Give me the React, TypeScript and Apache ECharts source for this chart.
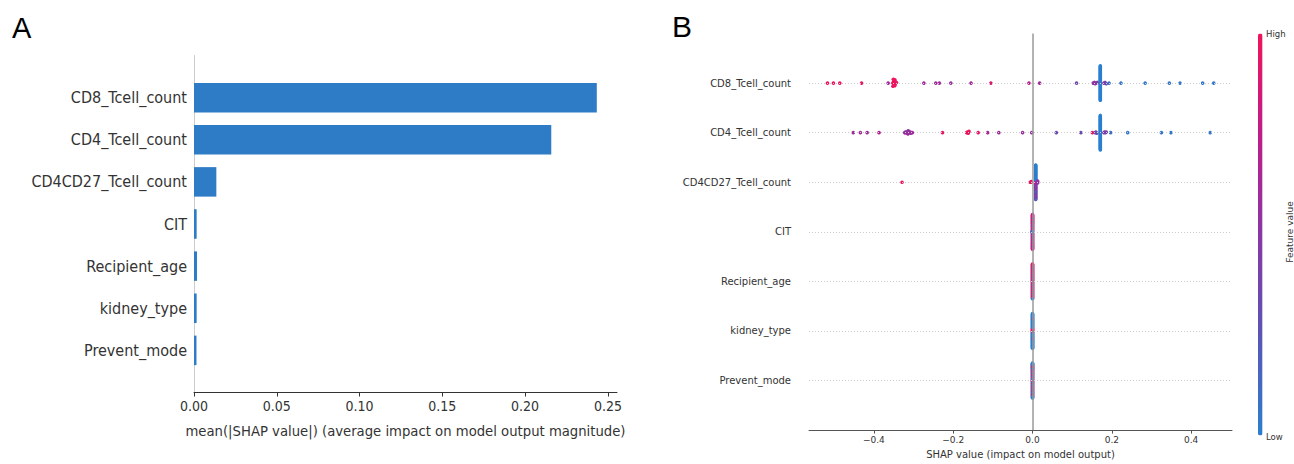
import React, { useEffect, useRef } from "react";
import * as echarts from "echarts";

// ---------- data ----------
const FEATURES = [
  "CD8_Tcell_count",
  "CD4_Tcell_count",
  "CD4CD27_Tcell_count",
  "CIT",
  "Recipient_age",
  "kidney_type",
  "Prevent_mode",
];
const MEAN_ABS_SHAP = [0.2433, 0.2158, 0.0135, 0.0016, 0.0018, 0.0016, 0.0015];
const TICKS_A = [0, 0.05, 0.1, 0.15, 0.2, 0.25];
const TICKS_B = [-0.4, -0.2, 0, 0.2, 0.4];

// individual (scattered) SHAP values and their feature values (0 = low, 1 = high)
const CD8_SHAP = [-0.517, -0.502, -0.486, -0.431, -0.364, -0.352, -0.351, -0.350, -0.350, -0.349, -0.349, -0.348, -0.348, -0.347, -0.347, -0.352, -0.351, -0.345, -0.343, -0.274, -0.244, -0.235, -0.206, -0.155, -0.105, -0.009, 0.018, 0.111, 0.153, 0.156, 0.158, 0.160, 0.163, 0.180, 0.183, 0.186, 0.193, 0.223, 0.284, 0.345, 0.372, 0.429, 0.457];
const CD8_FV = [1, 1, 1, 0.95, 0.6, 1, 0.95, 1, 1, 0.95, 1, 1, 0.95, 1, 1, 0.95, 1, 1, 0.95, 0.6, 0.6, 0.6, 0.55, 0.6, 0.9, 0.75, 0.6, 0.35, 0.5, 0.55, 0.5, 0.55, 0.45, 0.5, 0.45, 0.3, 0.1, 0.05, 0.05, 0.05, 0.05, 0.05, 0.05];
const CD4_SHAP = [-0.452, -0.434, -0.417, -0.387, -0.322, -0.321, -0.320, -0.316, -0.315, -0.314, -0.313, -0.309, -0.308, -0.307, -0.303, -0.227, -0.166, -0.164, -0.162, -0.160, -0.137, -0.113, -0.085, -0.025, -0.002, 0.060, 0.122, 0.151, 0.158, 0.160, 0.162, 0.180, 0.182, 0.184, 0.186, 0.197, 0.240, 0.325, 0.349, 0.448];
const CD4_FV = [0.6, 0.6, 0.6, 0.7, 0.55, 0.6, 0.5, 0.6, 0.55, 0.6, 0.5, 0.55, 0.6, 0.55, 0.6, 0.95, 0.95, 1, 0.95, 1, 0.95, 0.65, 0.6, 0.55, 0.55, 0.35, 0.35, 1, 0.35, 0.4, 0.3, 0.45, 0.5, 0.45, 0.4, 0.1, 0.05, 0.05, 0.05, 0.05];
const CD4CD27_SHAP = [-0.329, -0.006, -0.004, -0.003, 0.012, 0.0125, 0.013, 0.013];
const CD4CD27_FV = [1, 1, 1, 0.9, 0.55, 0.6, 0.5, 0.55];
const CIT_SHAP = [-0.0012, -0.0011];
const CIT_FV = [0.1, 0.2];

// dense piles of (nearly) identical SHAP values: feature-value levels 0..9,
// first entry at the centre, then (above, below) pairs going outward
const CD8_PILE = { shap: 0.171, levels: "0".repeat(55) };
const CD4_PILE = { shap: 0.171, levels: "0".repeat(55) };
const CD4CD27_PILE = {
  shap: 0.008,
  levels: "9" + ["99", "89", "67", "06", "05", "03", "06", "04", "02", "05", "03", "06", "14", "02", "05", "03", "01", "04", "02", "05", "03", "06", "02", "04", "03", "05", "02"].join(""),
};
const CIT_PILE = {
  shap: 0,
  levels: "0" + ["00", "00", "87", "80", "78", "08", "87", "90", "78", "07", "88", "70", "87", "08", "87", "70", "88", "07", "98", "70", "87", "88", "07", "78", "80", "97", "88", "77", "08", "87", "78", "80", "97", "88", "77"].join(""),
};
const AGE_PILE = {
  shap: 0,
  levels: "9" + ["90", "99", "08", "99", "80", "09", "99", "90", "88", "09", "90", "99", "08", "99", "80", "99", "09", "98", "90", "89", "09", "99", "90", "88", "09", "99", "90", "98", "09", "99", "80", "99", "08", "99", "90"].join(""),
};
const KIDNEY_PILE = {
  shap: 0,
  levels: "9" + ["99", "99", "90", "90", "90", "99", "00", "00", "00", "00", "00", "00", "00", "00", "00", "00", "09", "00", "00", "00", "00", "00", "00", "00", "00", "90", "00", "00", "00", "00", "00", "00", "00", "00", "00"].join(""),
};
const PREVENT_PILE = {
  shap: 0,
  levels: "9" + ["99", "99", "00", "00", "99", "00", "00", "99", "99", "00", "00", "00", "99", "99", "00", "99", "00", "00", "99", "00", "99", "99", "00", "00", "99", "00", "00", "00", "99", "99", "00", "99", "00", "00", "00"].join(""),
};

const ROWS = [
  { pile: CD8_PILE, shap: CD8_SHAP, fv: CD8_FV },
  { pile: CD4_PILE, shap: CD4_SHAP, fv: CD4_FV },
  { pile: CD4CD27_PILE, shap: CD4CD27_SHAP, fv: CD4CD27_FV },
  { pile: CIT_PILE, shap: CIT_SHAP, fv: CIT_FV },
  { pile: AGE_PILE, shap: [], fv: [] },
  { pile: KIDNEY_PILE, shap: [], fv: [] },
  { pile: PREVENT_PILE, shap: [], fv: [] },
];

// ---------- beeswarm layout (as in shap's summary plot) ----------
const NBINS = 100;
const ROW_HEIGHT = 0.4;
function swarmOffsets(values: number[]): number[] {
  const n = values.length;
  const mn = Math.min(...values);
  const mx = Math.max(...values);
  const quant = values.map((v) => Math.round((NBINS * (v - mn)) / (mx - mn + 1e-8)));
  const inds = values.map((_, i) => i).sort((a, b) => quant[a] - quant[b] || a - b);
  const ys = new Array(n).fill(0);
  let layer = 0;
  let last = -1;
  for (const i of inds) {
    if (quant[i] !== last) layer = 0;
    ys[i] = Math.ceil(layer / 2) * ((layer % 2) * 2 - 1);
    layer += 1;
    last = quant[i];
  }
  const m = Math.max(...ys.map((y) => y + 1));
  return ys.map((y) => y * 0.9 * (ROW_HEIGHT / m));
}

function buildPoints() {
  const pts: number[][] = [];
  ROWS.forEach((row, k) => {
    const rowY = FEATURES.length - 1 - k;
    const vals: number[] = [];
    const fvs: number[] = [];
    for (const ch of row.pile.levels) {
      vals.push(row.pile.shap);
      fvs.push(Number(ch) / 9);
    }
    row.shap.forEach((v, i) => {
      vals.push(v);
      fvs.push(row.fv[i]);
    });
    const offs = swarmOffsets(vals);
    vals.forEach((v, i) => pts.push([v, rowY + offs[i], fvs[i]]));
  });
  return pts;
}

const FONT_A = "'DejaVu Sans Condensed', 'Liberation Sans Narrow', 'DejaVu Sans', sans-serif";
const FONT_B = "'DejaVu Sans', sans-serif";
const TXT = "#333333";

export default function App() {
  const ref = useRef<HTMLDivElement>(null);
  useEffect(() => {
    document.body.style.margin = "0";
    if (!ref.current) return;
    const chart = echarts.init(ref.current, null, { renderer: "svg" });
    const catsA = ["", ...FEATURES.slice().reverse(), ""];
    const barsA = ["-", ...MEAN_ABS_SHAP.slice().reverse(), "-"];
    const points = buildPoints();

    chart.setOption({
      animation: false,
      backgroundColor: "#ffffff",
      grid: [
        { left: 194, top: 55.5, width: 423, height: 337 },
        { left: 809, top: 33.5, width: 423, height: 402.5 },
      ],
      xAxis: [
        {
          gridIndex: 0,
          type: "value",
          min: 0,
          max: 0.2555,
          axisLine: { show: true, onZero: false, lineStyle: { color: "#333", width: 1 } },
          axisTick: { show: true, customValues: TICKS_A, length: 4, lineStyle: { color: "#333" } },
          axisLabel: {
            customValues: TICKS_A,
            formatter: (v: number) => v.toFixed(2),
            fontSize: 14,
            color: TXT,
            fontFamily: FONT_A,
            margin: 6,
          },
          splitLine: { show: false },
          name: "mean(|SHAP value|) (average impact on model output magnitude)",
          nameLocation: "middle",
          nameGap: 30,
          nameTextStyle: { fontSize: 14.7, color: TXT, fontFamily: FONT_A },
        },
        {
          gridIndex: 1,
          type: "value",
          min: -0.5636,
          max: 0.503,
          axisLine: { show: true, onZero: false, lineStyle: { color: "#555", width: 1 } },
          axisTick: { show: true, customValues: TICKS_B, length: 3.5, lineStyle: { color: "#555" } },
          axisLabel: {
            customValues: TICKS_B,
            formatter: (v: number) => v.toFixed(1).replace("-", "\u2212"),
            fontSize: 9,
            color: TXT,
            fontFamily: FONT_B,
            margin: 5,
          },
          splitLine: { show: false },
          name: "SHAP value (impact on model output)",
          nameLocation: "middle",
          nameGap: 16,
          nameTextStyle: { fontSize: 10, color: TXT, fontFamily: FONT_B },
        },
      ],
      yAxis: [
        {
          gridIndex: 0,
          type: "category",
          data: catsA,
          boundaryGap: false,
          axisLine: { show: true, onZero: false, lineStyle: { color: "#cccccc", width: 1 } },
          axisTick: { show: false },
          axisLabel: { interval: 0, fontSize: 16, color: TXT, fontFamily: FONT_A, margin: 7 },
          splitLine: { show: false },
        },
        {
          gridIndex: 1,
          type: "value",
          min: -1,
          max: 7,
          interval: 1,
          axisLine: { show: false, onZero: false },
          axisTick: { show: false },
          splitLine: { show: false },
          axisLabel: {
            fontSize: 10,
            color: TXT,
            fontFamily: FONT_B,
            margin: 18,
            formatter: (v: number) => {
              const k = FEATURES.length - 1 - Math.round(v);
              return k >= 0 && k < FEATURES.length ? FEATURES[k] : "";
            },
          },
        },
      ],
      visualMap: {
        type: "continuous",
        seriesIndex: 2,
        dimension: 2,
        min: 0,
        max: 1,
        calculable: false,
        hoverLink: false,
        orient: "vertical",
        left: 1258,
        top: 33.5,
        itemWidth: 4.5,
        itemHeight: 402,
        padding: 0,
        text: null,
        inRange: { color: ["#2a7fd0", "#5a55b5", "#8a36a5", "#c01c8a", "#f0145a"] },
      },
      series: [
        {
          type: "bar",
          xAxisIndex: 0,
          yAxisIndex: 0,
          data: barsA,
          barWidth: 29.5,
          itemStyle: { color: "#2e7cc6" },
          silent: true,
        },
        {
          type: "scatter",
          xAxisIndex: 1,
          yAxisIndex: 1,
          data: [],
          z: 1,
          silent: true,
          markLine: {
            silent: true,
            symbol: ["none", "none"],
            label: { show: false },
            data: [
              ...FEATURES.map((_, i) => ({ yAxis: i, lineStyle: { color: "#cccccc", width: 1, type: [1, 2] } })),
              { xAxis: 0, lineStyle: { color: "#9a9a9a", width: 1.5, type: "solid" } },
            ],
          },
        },
        {
          type: "scatter",
          xAxisIndex: 1,
          yAxisIndex: 1,
          data: points,
          symbol: "circle",
          symbolSize: 3.6,
          z: 3,
          silent: true,
          itemStyle: { opacity: 1, borderWidth: 0 },
        },
      ],
      graphic: [
        { type: "text", left: 12, top: 13, style: { text: "A", fontSize: 29, fontFamily: "'Liberation Sans', Arial, sans-serif", fill: "#000" } },
        { type: "text", left: 672, top: 11, style: { text: "B", fontSize: 30, fontFamily: "'Liberation Sans', Arial, sans-serif", fill: "#000" } },
        { type: "text", x: 1266, y: 34, style: { text: "High", fontSize: 8.5, fontFamily: FONT_B, fill: TXT, verticalAlign: "middle" } },
        { type: "text", x: 1266, y: 437, style: { text: "Low", fontSize: 8.5, fontFamily: FONT_B, fill: TXT, verticalAlign: "middle" } },
        {
          type: "text",
          x: 1290,
          y: 232,
          rotation: Math.PI / 2,
          style: { text: "Feature value", fontSize: 9, fontFamily: FONT_B, fill: TXT, align: "center", verticalAlign: "middle" },
        },
      ],
    });
    return () => chart.dispose();
  }, []);
  return <div ref={ref} style={{ width: 1294, height: 464 }} />;
}
